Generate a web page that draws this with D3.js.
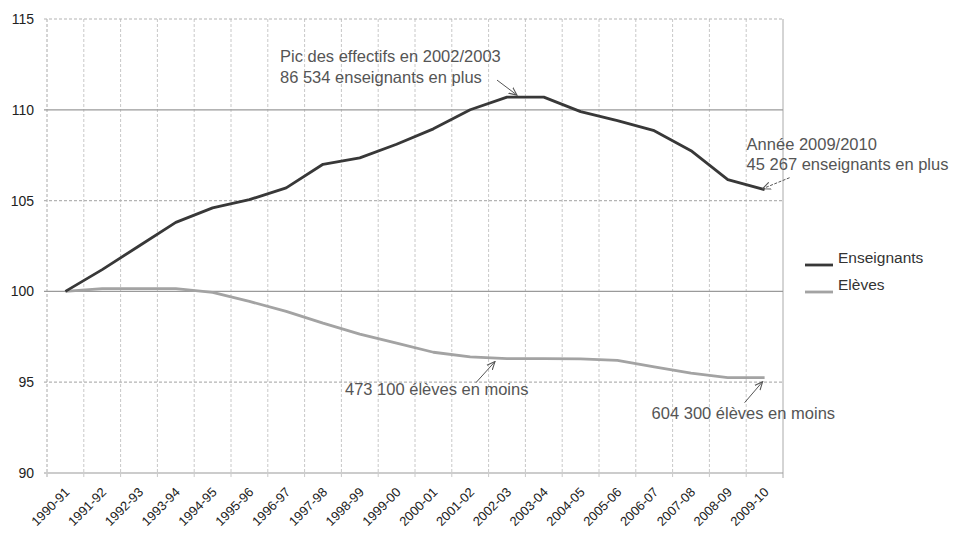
<!DOCTYPE html>
<html>
<head>
<meta charset="utf-8">
<style>
  body { margin: 0; background: #fff; }
  svg text { font-family: "Liberation Sans", Arial, sans-serif; }
</style>
</head>
<body>
<script src="https://cdnjs.cloudflare.com/ajax/libs/d3/7.8.5/d3.min.js"></script>
<script>

// school years, base 100 in 1990-91
var years = ["1990-91","1991-92","1992-93","1993-94","1994-95","1995-96","1996-97",
  "1997-98","1998-99","1999-00","2000-01","2001-02","2002-03","2003-04","2004-05",
  "2005-06","2006-07","2007-08","2008-09","2009-10"];

var enseignants = [100, 101.2, 102.5, 103.8, 104.6, 105.05, 105.7, 107.0, 107.35, 108.1,
  108.95, 110.0, 110.7, 110.7, 109.9, 109.4, 108.85, 107.75, 106.15, 105.6];

var eleves = [100, 100.15, 100.15, 100.15, 99.95, 99.45, 98.9, 98.25, 97.65, 97.15,
  96.65, 96.4, 96.3, 96.3, 96.28, 96.2, 95.85, 95.5, 95.25, 95.25];

var yTicks = [90, 95, 100, 105, 110, 115];

var seriesNames = ["Enseignants", "Elèves"];
var seriesColors = ["#383838", "#a3a3a3"];

// text and arrow offsets are relative to the pointed data point
var notes = [
  { year: "2002-03", serie: 0, lines: ["Pic des effectifs en 2002/2003", "86 534 enseignants en plus"],
    tx: -227, ty: -35, sx: -10, sy: -17, ex: 10, ey: -2, dash: false },
  { year: "2009-10", serie: 0, lines: ["Année 2009/2010", "45 267 enseignants en plus"],
    tx: -18, ty: -40, sx: 25, sy: -12, ex: -2, ey: -1, dash: true },
  { year: "2002-03", serie: 1, lines: ["473 100 élèves en moins"],
    tx: -162, ty: 36, sx: -31, sy: 24, ex: -12, ey: 3, dash: false },
  { year: "2009-10", serie: 1, lines: ["604 300 élèves en moins"],
    tx: -113, ty: 41, sx: -20, sy: 25, ex: -2, ey: 4, dash: false }
];

var W = 954, H = 533;
var mLeft = 47, mRight = 783, mTop = 19, mBottom = 473;

var svg = d3.select("body").append("svg")
    .attr("width", W)
    .attr("height", H);

var defs = svg.append("defs");
defs.append("marker")
    .attr("id", "arrow")
    .attr("viewBox", "0 0 10 10")
    .attr("refX", 9).attr("refY", 5)
    .attr("markerWidth", 9).attr("markerHeight", 9)
    .attr("markerUnits", "userSpaceOnUse")
    .attr("orient", "auto")
  .append("path")
    .attr("d", "M0,1 L9,5 L0,9")
    .attr("fill", "none")
    .attr("stroke", "#555")
    .attr("stroke-width", 1.2);

var x = d3.scaleBand()
    .domain(years)
    .range([mLeft, mRight]);

var y = d3.scaleLinear()
    .domain([90, 115])
    .range([mBottom, mTop]);

function cx(d) { return x(d) + x.bandwidth() / 2; }

// vertical grid at band boundaries
var bounds = years.map(function(d) { return x(d); }).concat([mRight]);
svg.append("g")
  .selectAll("line")
  .data(bounds)
  .enter().append("line")
    .attr("x1", function(d) { return d; })
    .attr("x2", function(d) { return d; })
    .attr("y1", mTop)
    .attr("y2", mBottom + 5)
    .attr("stroke", function(d, i) { return (i == 0 || i == bounds.length - 1) ? "#aaa" : "#c8c8c8"; })
    .attr("stroke-dasharray", function(d, i) { return (i == bounds.length - 1) ? null : "3,2"; });

// horizontal grid
svg.append("g")
  .selectAll("line")
  .data(yTicks)
  .enter().append("line")
    .attr("x1", mLeft - 3)
    .attr("x2", mRight)
    .attr("y1", function(d) { return y(d); })
    .attr("y2", function(d) { return y(d); })
    .attr("stroke", function(d) { return d % 10 == 0 ? "#9a9a9a" : "#b4b4b4"; })
    .attr("stroke-width", 1.2)
    .attr("stroke-dasharray", function(d) { return d % 10 == 0 ? null : "3,2"; });

// y labels
svg.append("g")
  .selectAll("text")
  .data(yTicks)
  .enter().append("text")
    .attr("x", mLeft - 13)
    .attr("y", function(d) { return y(d); })
    .attr("dy", "0.35em")
    .attr("text-anchor", "end")
    .attr("font-size", 14)
    .attr("fill", "#222")
    .text(function(d) { return d; });

// x labels
svg.append("g")
  .selectAll("text")
  .data(years)
  .enter().append("text")
    .attr("transform", function(d) { return "translate(" + (cx(d) + 5) + "," + (mBottom + 20) + ") rotate(-45)"; })
    .attr("text-anchor", "end")
    .attr("font-size", 13)
    .attr("fill", "#222")
    .text(function(d) { return d; });

// lines
var line = d3.line()
    .x(function(d, i) { return cx(years[i]); })
    .y(function(d) { return y(d); });

[eleves, enseignants].forEach(function(s, k) {
  var idx = k == 0 ? 1 : 0;
  svg.append("path")
      .datum(s)
      .attr("d", line)
      .attr("fill", "none")
      .attr("stroke", seriesColors[idx])
      .attr("stroke-width", 2.8)
      .attr("stroke-linejoin", "round");
});

// legend
var legend = svg.append("g")
  .selectAll("g")
  .data(seriesNames)
  .enter().append("g")
    .attr("transform", function(d, i) { return "translate(805," + (263 + i * 27) + ")"; });

legend.append("line")
    .attr("x1", 0).attr("x2", 28)
    .attr("y1", 2).attr("y2", 2)
    .attr("stroke", function(d, i) { return seriesColors[i]; })
    .attr("stroke-width", 2.8);

legend.append("text")
    .attr("x", 33)
    .attr("y", 0)
    .attr("font-size", 15.5)
    .attr("fill", "#333")
    .text(function(d) { return d; });

// annotations
var series = [enseignants, eleves];
notes.forEach(function(n) {
  var px = cx(n.year);
  var py = y(series[n.serie][years.indexOf(n.year)]);
  svg.append("line")
      .attr("x1", px + n.sx)
      .attr("y1", py + n.sy)
      .attr("x2", px + n.ex)
      .attr("y2", py + n.ey)
      .attr("stroke", "#555")
      .attr("stroke-width", 1)
      .attr("stroke-dasharray", n.dash ? "3,1.5" : null)
      .attr("marker-end", "url(#arrow)");
  var t = svg.append("text")
      .attr("x", px + n.tx)
      .attr("y", py + n.ty)
      .attr("font-size", 16.5)
      .attr("fill", "#555");
  n.lines.forEach(function(l, i) {
    t.append("tspan")
      .attr("x", px + n.tx)
      .attr("dy", i == 0 ? 0 : 20.5)
      .text(l);
  });
});

</script>
</body>
</html>
